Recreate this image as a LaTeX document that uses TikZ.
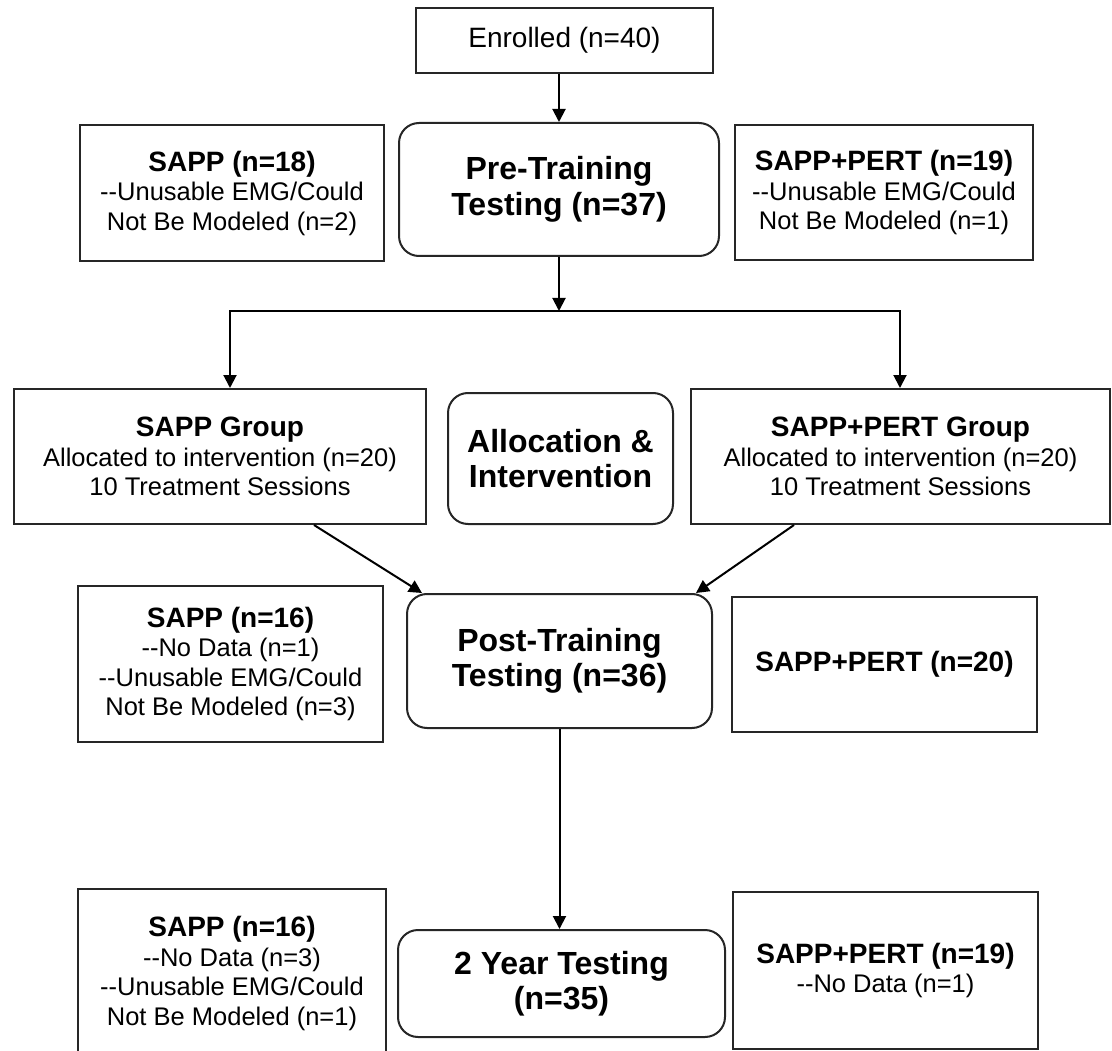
\documentclass[tikz,border=0pt]{standalone}
\usepackage{fontspec}
\setmainfont{Liberation Sans}
\usetikzlibrary{arrows.meta,calc}
\newcommand\hd[1]{{\fontsize{28}{31}\selectfont\bfseries #1}}
\newcommand\dd{-\kern0pt-}
\begin{document}
\begin{tikzpicture}[x=1pt,y=-1pt,
  box/.style={draw=black!85, line width=2pt, inner sep=0pt, align=center, anchor=center, fill=white},
  rbox/.style={box, rounded corners=20pt},
  reg/.style={font=\fontsize{25.5}{29.5}\selectfont},
  big/.style={font=\fontsize{32}{35.5}\selectfont\bfseries},
  tip/.style={-{Triangle[length=13pt,width=13pt]}},
  conn/.style={line width=2pt, tip}]
\useasboundingbox (0,0) rectangle (1112,1051);
\clip (0,0) rectangle (1112,1051);

\node[box, reg, font=\fontsize{28}{31}\selectfont, minimum width=297, minimum height=65] (enr) at (564.5,40.5) {Enrolled (n=40)};
\node[rbox, big, minimum width=320, minimum height=133] (pre) at (559,189.5) {Pre-Training\\Testing (n=37)};
\node[box, reg, minimum width=304, minimum height=136] (s18) at (232,193) {\hd{SAPP (n=18)}\\\dd Unusable EMG/Could\\Not Be Modeled (n=2)};
\node[box, reg, minimum width=298, minimum height=135] (p19) at (884,192.5) {\hd{SAPP+PERT (n=19)}\\\dd Unusable EMG/Could\\Not Be Modeled (n=1)};

\node[box, reg, minimum width=412, minimum height=135] (sg) at (220,456.5) {\hd{SAPP Group}\\Allocated to intervention (n=20)\\10 Treatment Sessions};
\node[rbox, big, minimum width=225, minimum height=131] (alloc) at (560.5,458.5) {Allocation \&\\Intervention};
\node[box, reg, minimum width=419, minimum height=135] (pg) at (900.5,456.5) {\hd{SAPP+PERT Group}\\Allocated to intervention (n=20)\\10 Treatment Sessions};

\node[rbox, big, minimum width=305, minimum height=134] (post) at (559.5,661) {Post-Training\\Testing (n=36)};
\node[box, reg, minimum width=305, minimum height=156] (s16a) at (230.5,664) {\hd{SAPP (n=16)}\\\dd No Data (n=1)\\\dd Unusable EMG/Could\\Not Be Modeled (n=3)};
\node[box, reg, minimum width=305, minimum height=135] (p20) at (884.5,664.5) {\hd{SAPP+PERT (n=20)}};

\node[rbox, big, minimum width=327, minimum height=107] (two) at (561.5,983.5) {2 Year Testing\\(n=35)};
\node[box, reg, minimum width=308, minimum height=169] (s16b) at (232,973.5) {\hd{SAPP (n=16)}\\\dd No Data (n=3)\\\dd Unusable EMG/Could\\Not Be Modeled (n=1)};
\node[box, reg, minimum width=305, minimum height=157] (p19b) at (885.5,970.5) {\hd{SAPP+PERT (n=19)}\\\dd No Data (n=1)};

\coordinate (jc) at (559,311);
\coordinate (jl) at (230,311);
\coordinate (jr) at (900,311);

\draw[conn] (enr.south -| pre.north) -- (pre.north);
\draw[conn] (pre.south) -- (jc);
\draw[line width=2pt, {Triangle[length=13pt,width=13pt]}-{Triangle[length=13pt,width=13pt]}]
  (jl |- sg.north) -- (jl) -- (jr) -- (jr |- pg.north);
\draw[conn] ([xshift=94pt]sg.south) -- ([xshift=16pt]post.north west);
\draw[conn] ([xshift=-106.5pt]pg.south) -- ([xshift=-17pt]post.north east);
\draw[conn] (post.south) -- (post.south |- two.north);
\end{tikzpicture}
\end{document}
